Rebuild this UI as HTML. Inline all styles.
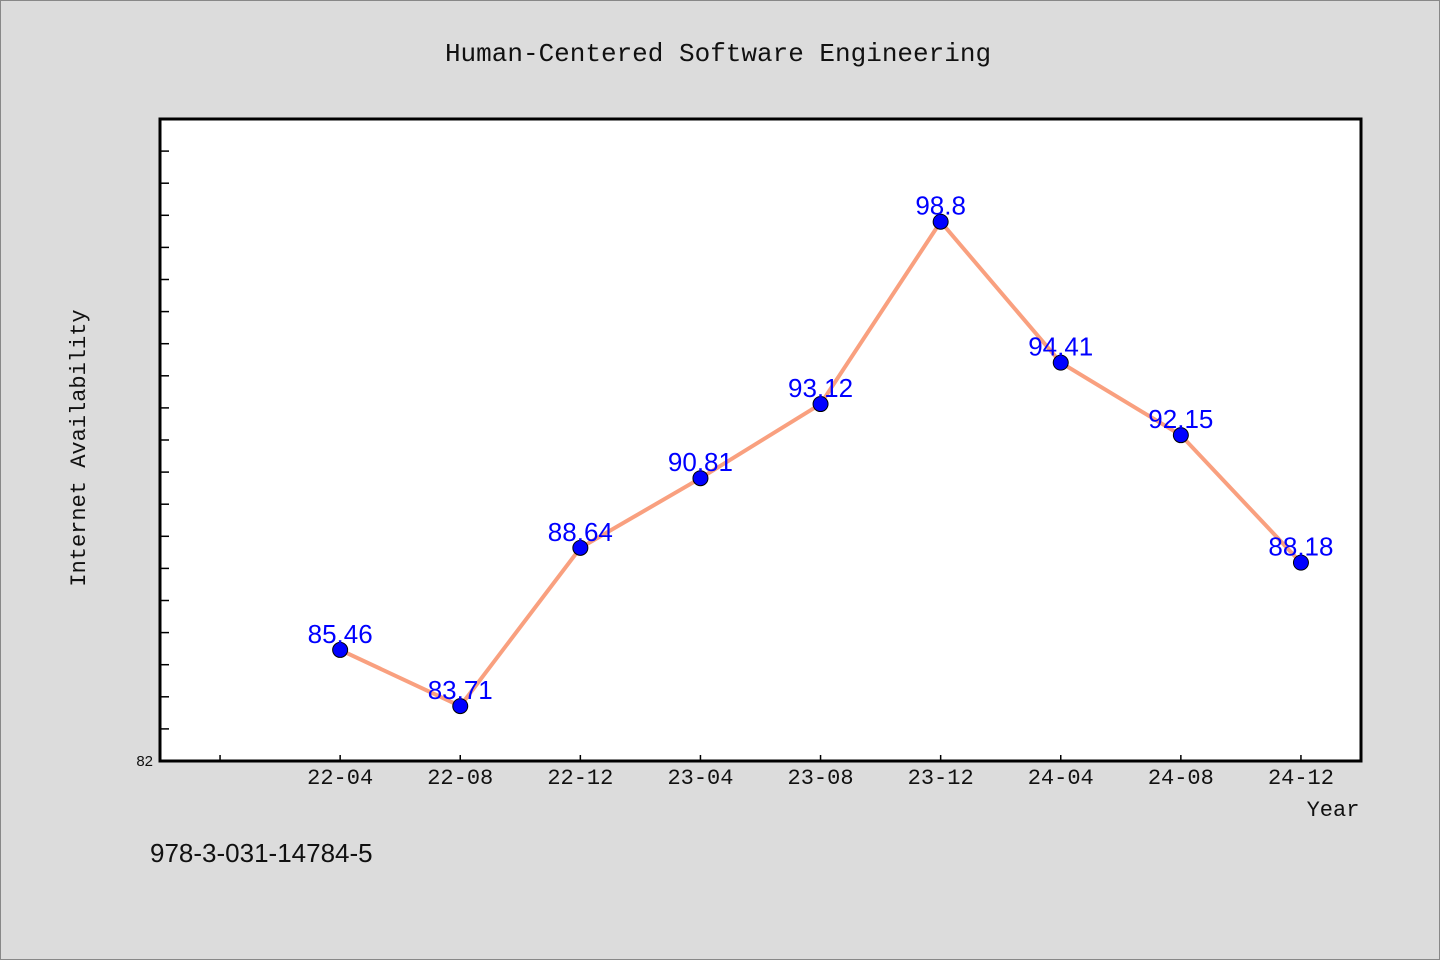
<!DOCTYPE html>
<html><head><meta charset="utf-8"><style>
body{margin:0;background:#dcdcdc;}
svg{display:block;font-family:"Liberation Mono","WenQuanYi Zen Hei",monospace;}
</style></head><body>
<svg width="1440" height="960">
<rect x="0.5" y="0.5" width="1439" height="959" fill="#dcdcdc" stroke="#888"/>
<text x="718" y="61" text-anchor="middle" font-size="26" fill="#111">Human-Centered Software Engineering</text>
<rect x="160" y="119" width="1201" height="642" fill="#fff" stroke="#000" stroke-width="3"/>
<text transform="translate(85,448) rotate(-90)" text-anchor="middle" font-size="22" fill="#111">Internet Availability</text>
<text x="1333" y="816" text-anchor="middle" font-size="22" fill="#111">Year</text>
<text x="150" y="862" font-size="26" fill="#111" font-family="Liberation Sans, sans-serif">978-3-031-14784-5</text>
<g id="axes"></g>
<g id="marks"></g>
</svg>
<script>
const categories=["22-04","22-08","22-12","23-04","23-08","23-12","24-04","24-08","24-12"];
const values=[85.46,83.71,88.64,90.81,93.12,98.8,94.41,92.15,88.18];
const labels=["85.46","83.71","88.64","90.81","93.12","98.8","94.41","92.15","88.18"];
const yMin=82,yMax=102;
const NS="http://www.w3.org/2000/svg";
const L=160,R=1361,T=119,B=761;
function x(i){return L+(i+1.5)*(R-L)/(categories.length+1);}
function y(v){return B-(v-yMin)*(B-T)/(yMax-yMin);}
function mk(t,a,p){const e=document.createElementNS(NS,t);for(const k in a)e.setAttribute(k,a[k]);p.appendChild(e);return e;}
const ax=document.getElementById('axes'),mg=document.getElementById('marks');
for(let v=yMin+1;v<yMax;v++){
 const t=mk('line',{x1:L,x2:L+9,y1:y(v),y2:y(v),stroke:'#000','stroke-width':1.5},ax);
 
 
}
const yl=mk('text',{x:153,y:B+5,'text-anchor':'end','font-size':15,fill:'#111','font-family':'Liberation Sans, sans-serif'},ax);
yl.textContent=String(yMin);


for(let i=-1;i<categories.length;i++){
 const t=mk('line',{x1:x(i),x2:x(i),y1:B,y2:B-6,stroke:'#000','stroke-width':1.5},ax);
 
 
 if(i>=0){
  const l=mk('text',{x:x(i),y:784,'text-anchor':'middle','font-size':22,fill:'#111'},ax);
  l.textContent=categories[i];
  
  
 }
}
const pl=mk('polyline',{points:values.map((v,i)=>x(i)+','+y(v)).join(' '),fill:'none',stroke:'#f9a07f','stroke-width':4},mg);


values.forEach((v,i)=>{
 const c=mk('circle',{cx:x(i),cy:y(v),r:7.5,fill:'#0000ff',stroke:'#000','stroke-width':1},mg);
 
 
 const t=mk('text',{x:x(i),y:y(v)-7,'text-anchor':'middle','font-size':26,fill:'#0000ff','font-family':'Liberation Sans, sans-serif'},mg);
 t.textContent=labels[i];
 
 
});
</script>
</body></html>
